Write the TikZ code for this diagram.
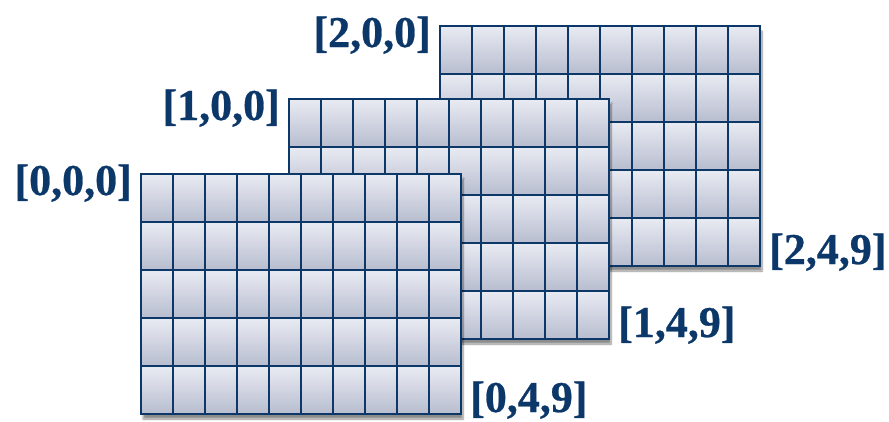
\documentclass[tikz,border=0pt]{standalone}
\usepackage{fontspec}
\setmainfont{Liberation Serif}[BoldFont={Liberation Serif Bold},BoldFeatures={FakeBold=0.6}]
\usetikzlibrary{shadows.blur}
\definecolor{gridblue}{RGB}{12,55,105}
\definecolor{celltop}{RGB}{233,235,243}
\definecolor{cellbot}{RGB}{184,189,207}

\begin{document}
\begin{tikzpicture}[
  x=1pt,y=-1pt,
  cell/.style={top color=celltop,bottom color=cellbot,draw=gridblue,line width=2pt},
  frame/.style={fill=white,blur shadow={shadow xshift=2pt,shadow yshift=-5pt,shadow blur steps=8,shadow opacity=45}},
  idx/.style={font=\fontsize{44}{44}\selectfont\bfseries,text=gridblue,inner sep=0pt}
]
\useasboundingbox (0,0) rectangle (889,421);

% back to front: layer 2, 1, 0
\foreach \k/\gx/\gy in {2/440/26, 1/289/99, 0/141/174} {
  \fill[frame] (\gx,\gy) rectangle ++(320,240);
  \foreach \i in {0,...,9}
    \foreach \j in {0,...,4}
      \draw[cell] ({\gx+32*\i},{\gy+48*\j}) rectangle ++(32,48);
  \node[idx,anchor=base east] (lab\k00) at ({\gx-9},{\gy+21}) {[\k,0,0]};
  \node[idx,anchor=base west] (lab\k49) at ({\gx+329},{\gy+238}) {[\k,4,9]};
}

\end{tikzpicture}
\end{document}
